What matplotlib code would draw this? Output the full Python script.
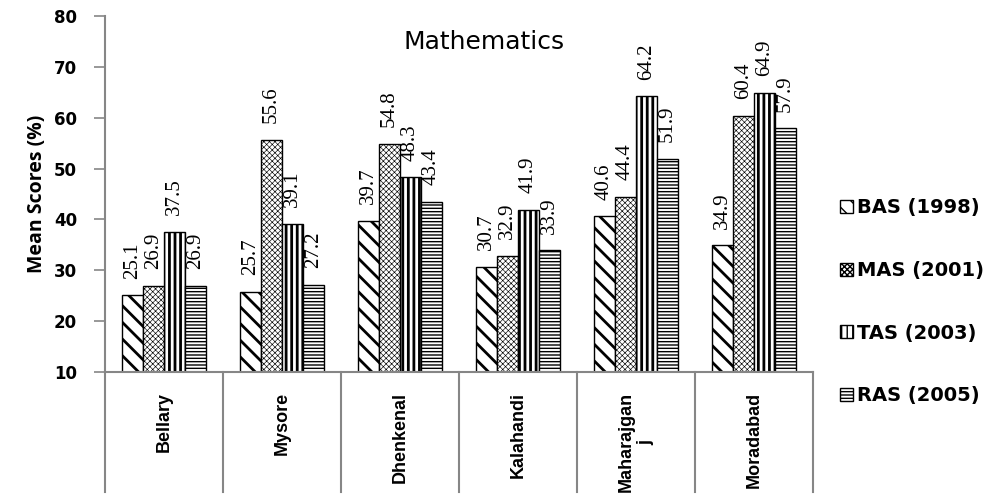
import matplotlib
matplotlib.use("Agg")
import matplotlib.pyplot as plt
from matplotlib.patches import Patch
import numpy as np

# Mean mathematics scores by district and survey round
districts = ["Bellary", "Mysore", "Dhenkenal", "Kalahandi", "Maharajgan\nj", "Moradabad"]
series_names = ["BAS (1998)", "MAS (2001)", "TAS (2003)", "RAS (2005)"]
bas_1998 = [25.1, 25.7, 39.7, 30.7, 40.6, 34.9]
mas_2001 = [26.9, 55.6, 54.8, 32.9, 44.4, 60.4]
tas_2003 = [37.5, 39.1, 48.3, 41.9, 64.2, 64.9]
ras_2005 = [26.9, 27.2, 43.4, 33.9, 51.9, 57.9]
y_ticks = [10, 20, 30, 40, 50, 60, 70, 80]

series = [bas_1998, mas_2001, tas_2003, ras_2005]
hatches = ["\\\\", "xxxxxx", "|||", "-----"]
hatch_lw = [2.0, 0.45, 2.0, 1.0]

grey = "#868686"


def set_hatch_width(patch, lw):
    if hasattr(patch, "set_hatch_linewidth"):
        patch.set_hatch_linewidth(lw)


fig = plt.figure(figsize=(9.95, 4.97), dpi=100)
ax = fig.add_axes([105 / 995, 125 / 497, 708 / 995, 356 / 497])

x = np.arange(len(districts))
bar_w = 0.178
offsets = (np.arange(4) - 1.5) * bar_w

for vals, off, h, lw in zip(series, offsets, hatches, hatch_lw):
    bars = ax.bar(x + off, np.array(vals) - 10, bottom=10, width=bar_w,
                  color="white", edgecolor="black", linewidth=1.0, hatch=h)
    for b, v in zip(bars, vals):
        set_hatch_width(b, lw)
        ax.annotate(f"{v:.1f}", xy=(b.get_x() + b.get_width() / 2, v),
                    xytext=(0, 12), textcoords="offset points",
                    rotation=90, ha="center", va="bottom",
                    family=["Liberation Serif", "DejaVu Serif"], fontsize=15)

ax.set_xlim(-0.5, len(districts) - 0.5)
ax.set_ylim(10, 80)
ax.set_yticks(y_ticks)
ax.set_yticklabels([str(t) for t in y_ticks], fontsize=12,
                   family=["DejaVu Sans"], fontweight="bold")
ax.tick_params(axis="y", direction="out", length=8, width=1.2, color=grey, pad=12)
ax.set_xticks([])

for side in ("top", "right"):
    ax.spines[side].set_visible(False)
for side in ("left", "bottom"):
    ax.spines[side].set_color(grey)
    ax.spines[side].set_linewidth(1.5)
ax.spines["left"].set_bounds(10, 80)

# category box below the axis
box_depth = -120 / 356
trans = ax.get_xaxis_transform()
for xb in np.arange(-0.5, len(districts), 1.0):
    ax.plot([xb, xb], [0, box_depth], transform=trans, color=grey,
            linewidth=1.5, clip_on=False)
for xi, name in zip(x, districts):
    ax.text(xi, -20 / 356, name, transform=trans, rotation=90,
            ha="center", va="top", multialignment="center",
            fontsize=13, family=["Liberation Sans Narrow", "Liberation Sans", "DejaVu Sans"],
            fontweight="bold")

ax.set_ylabel("Mean Scores (%)", fontsize=14, labelpad=5,
              family=["Open Sans", "DejaVu Sans"], fontweight="bold")

ax.text(0.535, 0.927, "Mathematics", transform=ax.transAxes, ha="center",
        va="center", fontsize=18, family=["DejaVu Sans"])

handles = []
for h, lw, name in zip(hatches, hatch_lw, series_names):
    p = Patch(facecolor="white", edgecolor="black", hatch=h, label=name)
    set_hatch_width(p, lw)
    handles.append(p)
fig.legend(handles=handles, loc="upper left", bbox_to_anchor=(823 / 995, 1 - 181 / 497),
           frameon=False, handlelength=0.65, handleheight=0.65, handletextpad=0.2,
           labelspacing=2.24, prop=dict(family=["DejaVu Sans"], weight="bold", size=14))

fig.savefig("out.png", dpi=100)
